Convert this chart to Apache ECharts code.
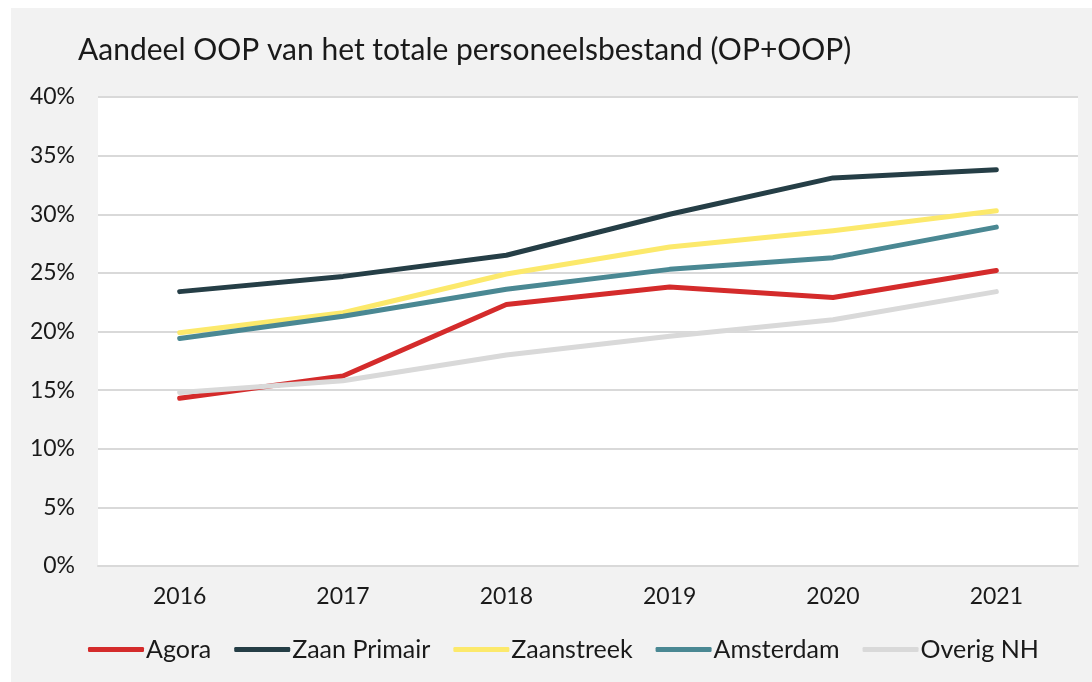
<!DOCTYPE html>
<html>
<head>
<meta charset="utf-8">
<script src="https://cdn.jsdelivr.net/npm/echarts@6/dist/echarts.min.js"></script>
<style>
  html, body { margin: 0; padding: 0; background: #ffffff; }
  #chart { position: absolute; left: 11px; top: 8px; width: 1081px; height: 674px; background: #f2f2f2; }
</style>
</head>
<body>
<div id="chart"></div>
<script>
var years = ['2016', '2017', '2018', '2019', '2020', '2021'];
var agora = [14.3, 16.2, 22.3, 23.8, 22.9, 25.2];
var zaanPrimair = [23.4, 24.7, 26.5, 30.0, 33.1, 33.8];
var zaanstreek = [19.9, 21.6, 24.9, 27.2, 28.6, 30.3];
var amsterdam = [19.4, 21.3, 23.6, 25.3, 26.3, 28.9];
var overigNH = [14.8, 15.8, 18.0, 19.6, 21.0, 23.4];

var font = 'Lato';
var el = document.getElementById('chart');
var chart = echarts.init(el);

function line(name, data, color) {
    return {
        name: name,
        type: 'line',
        data: data,
        symbol: 'none',
        lineStyle: { color: color, width: 5, cap: 'round', join: 'round' },
        itemStyle: { color: color }
    };
}

chart.setOption({
    animation: false,
    textStyle: { fontFamily: font },
    title: {
        text: 'Aandeel OOP van het totale personeelsbestand (OP+OOP)',
        left: 62,
        top: 22,
        textStyle: { fontFamily: font, fontSize: 30, fontWeight: 'normal', color: '#1a1a1a' }
    },
    legend: {
        left: 72,
        top: 624,
        itemWidth: 56,
        itemHeight: 5,
        itemGap: 23,
        icon: 'roundRect',
        textStyle: { fontFamily: font, fontSize: 25, color: '#1a1a1a', padding: [0, 0, 0, -3] }
    },
    grid: {
        left: 87,
        top: 89,
        width: 980,
        height: 469,
        show: true,
        backgroundColor: '#ffffff',
        borderWidth: 0
    },
    xAxis: {
        type: 'category',
        data: years,
        boundaryGap: true,
        axisLine: { show: true, lineStyle: { color: '#d9d9d9', width: 2 } },
        axisTick: { show: false },
        axisLabel: { fontFamily: font, fontSize: 23, color: '#1a1a1a', margin: 19 }
    },
    yAxis: {
        type: 'value',
        min: 0,
        max: 40,
        interval: 5,
        axisLine: { show: false },
        axisTick: { show: false },
        splitLine: { lineStyle: { color: '#d9d9d9', width: 2 } },
        axisLabel: {
            fontFamily: font, fontSize: 23, color: '#1a1a1a', margin: 23,
            formatter: function (v) { return v + '%'; }
        }
    },
    series: [
        line('Agora', agora, '#d42b2b'),
        line('Zaan Primair', zaanPrimair, '#253e46'),
        line('Zaanstreek', zaanstreek, '#fce96b'),
        line('Amsterdam', amsterdam, '#4a8893'),
        line('Overig NH', overigNH, '#d9d9d9')
    ]
});
</script>
</body>
</html>
